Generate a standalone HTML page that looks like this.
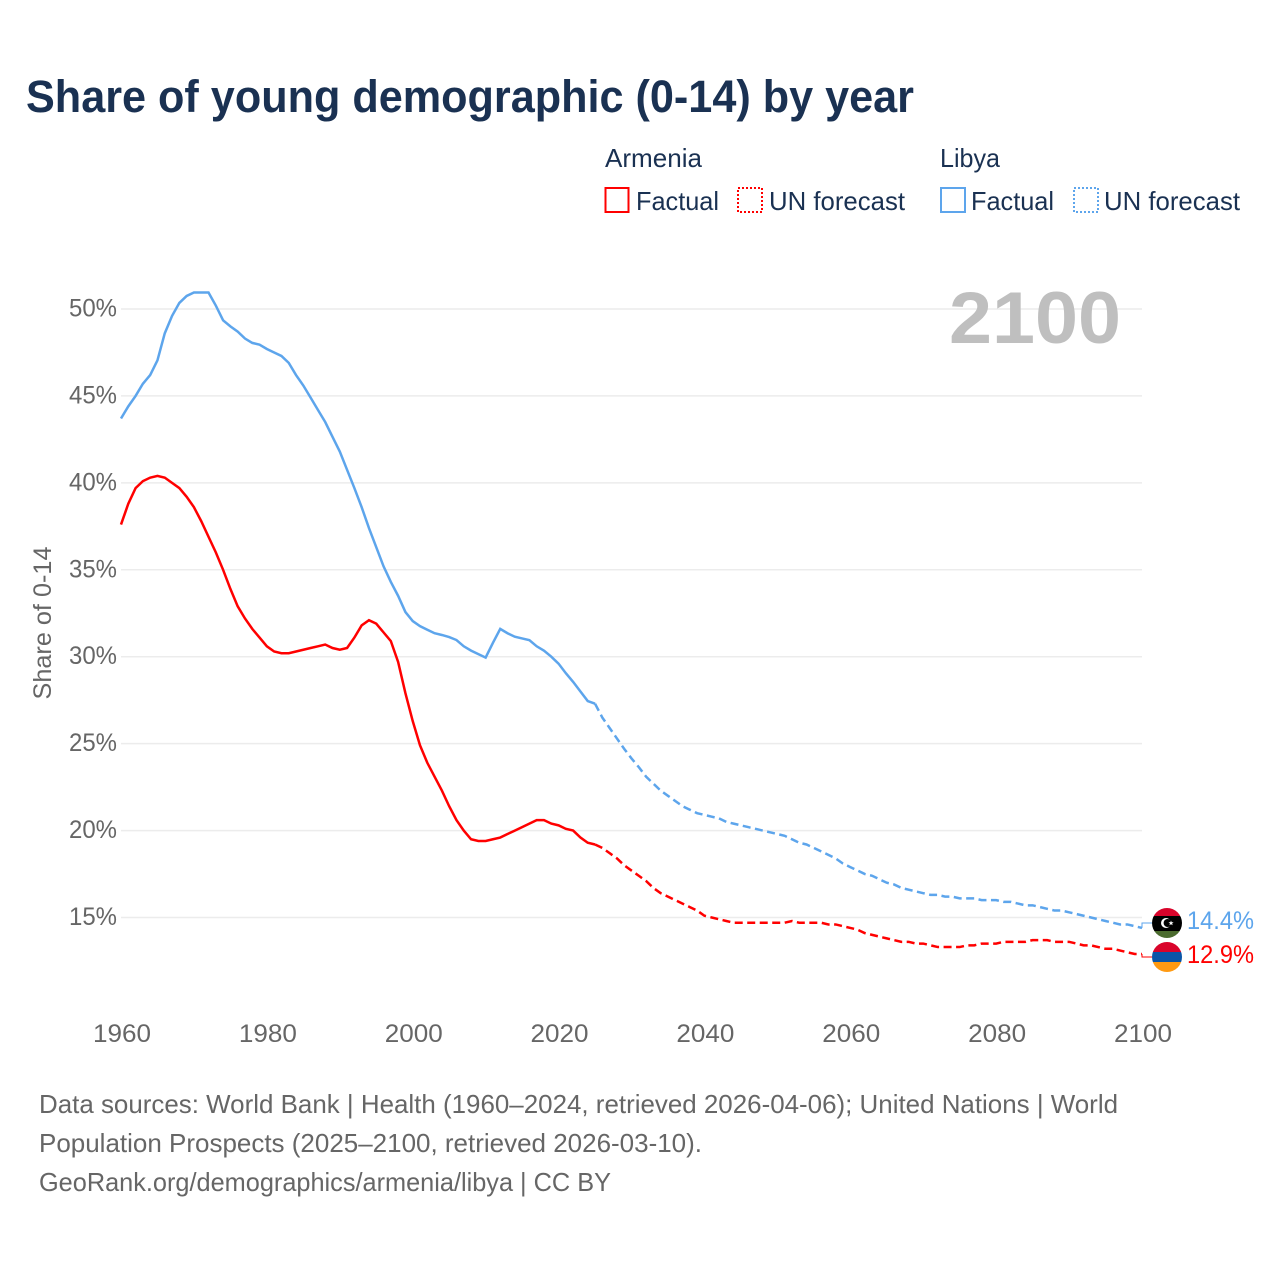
<!DOCTYPE html>
<html lang="en">
<head>
<meta charset="utf-8">
<title>Share of young demographic (0-14) by year</title>
<style>
html,body{margin:0;padding:0;background:#fff;width:1280px;height:1280px;overflow:hidden}
svg{display:block;font-family:"Liberation Sans",sans-serif}
</style>
</head>
<body>
<svg id="chart" xmlns="http://www.w3.org/2000/svg" width="1280" height="1280" viewBox="0 0 1280 1280">
  <rect width="1280" height="1280" fill="#fff"/>
  <text x="26" y="112" font-size="45" font-weight="700" fill="#1a3152" textLength="888" lengthAdjust="spacingAndGlyphs">Share of young demographic (0-14) by year</text>

  <g font-size="26" fill="#1a3152">
    <text x="605" y="167" textLength="97" lengthAdjust="spacingAndGlyphs">Armenia</text>
    <rect x="605.5" y="188" width="23" height="24" fill="none" stroke="#ff0000" stroke-width="2"/>
    <text x="636" y="210" textLength="83" lengthAdjust="spacingAndGlyphs">Factual</text>
    <rect x="738" y="188" width="24" height="24" fill="none" stroke="#ff0000" stroke-width="2" stroke-dasharray="2 2"/>
    <text x="769" y="210" textLength="136" lengthAdjust="spacingAndGlyphs">UN forecast</text>
    <text x="940" y="167" textLength="60" lengthAdjust="spacingAndGlyphs">Libya</text>
    <rect x="941" y="188" width="24" height="24" fill="none" stroke="#5da5ec" stroke-width="2"/>
    <text x="971" y="210" textLength="83" lengthAdjust="spacingAndGlyphs">Factual</text>
    <rect x="1074" y="188" width="24" height="24" fill="none" stroke="#5da5ec" stroke-width="2" stroke-dasharray="2 2"/>
    <text x="1104" y="210" textLength="136" lengthAdjust="spacingAndGlyphs">UN forecast</text>
  </g>

  <g id="grid"></g>
  <g id="yLabels"></g>
  <g id="xLabels"></g>
  <text transform="translate(51,623) rotate(-90)" text-anchor="middle" font-size="25" fill="#666" textLength="153" lengthAdjust="spacingAndGlyphs">Share of 0-14</text>
  <text x="949" y="343" font-size="73" font-weight="700" fill="#bfbfbf" textLength="172" lengthAdjust="spacingAndGlyphs">2100</text>
  <g id="series"></g>

  <defs>
    <clipPath id="clipLibya"><circle cx="1167" cy="923" r="15"/></clipPath>
    <clipPath id="clipArmenia"><circle cx="1167" cy="957" r="15"/></clipPath>
  </defs>
  <g clip-path="url(#clipLibya)">
    <rect x="1152" y="908" width="30" height="8" fill="#d9042b"/>
    <rect x="1152" y="916" width="30" height="15" fill="#000"/>
    <rect x="1152" y="931" width="30" height="7" fill="#4b6b2f"/>
    <circle cx="1166" cy="923" r="5" fill="#fff"/>
    <circle cx="1167.6" cy="923" r="4" fill="#000"/>
    <polygon points="1171,920.5 1171.7,922.3 1173.6,922.3 1172.1,923.5 1172.7,925.3 1171,924.2 1169.4,925.3 1170,923.5 1168.5,922.3 1170.4,922.3" fill="#fff"/>
  </g>
  <g clip-path="url(#clipArmenia)">
    <rect x="1152" y="942" width="30" height="10" fill="#d9042b"/>
    <rect x="1152" y="952" width="30" height="10" fill="#0a55a8"/>
    <rect x="1152" y="962" width="30" height="10" fill="#ff9a12"/>
  </g>
  <text id="labelLibya" x="1187" y="929" font-size="25" fill="#5da5ec" textLength="67" lengthAdjust="spacingAndGlyphs"></text>
  <text id="labelArmenia" x="1187" y="963" font-size="25" fill="#ff0000" textLength="67" lengthAdjust="spacingAndGlyphs"></text>

  <g font-size="26" fill="#666">
    <text x="39" y="1113" textLength="1079" lengthAdjust="spacingAndGlyphs">Data sources: World Bank | Health (1960–2024, retrieved 2026-04-06); United Nations | World</text>
    <text x="39" y="1152" textLength="663" lengthAdjust="spacingAndGlyphs">Population Prospects (2025–2100, retrieved 2026-03-10).</text>
    <text x="39" y="1191" textLength="572" lengthAdjust="spacingAndGlyphs">GeoRank.org/demographics/armenia/libya | CC BY</text>
  </g>
</svg>
<script>
const startYear = 1960;
const xTicks = [1960, 1980, 2000, 2020, 2040, 2060, 2080, 2100];
const yTicks = [15, 20, 25, 30, 35, 40, 45, 50];
const armeniaFactual = [37.6,38.8,39.7,40.1,40.3,40.4,40.3,40.0,39.7,39.2,38.6,37.8,36.9,36.0,35.0,33.9,32.9,32.2,31.6,31.1,30.6,30.3,30.2,30.2,30.3,30.4,30.5,30.6,30.7,30.5,30.4,30.5,31.1,31.8,32.1,31.9,31.4,30.9,29.7,27.9,26.3,24.9,23.9,23.1,22.3,21.4,20.6,20.0,19.5,19.4,19.4,19.5,19.6,19.8,20.0,20.2,20.4,20.6,20.6,20.4,20.3,20.1,20.0,19.6,19.3,19.2];
const armeniaForecast = [19.2,19.0,18.7,18.4,18.0,17.7,17.4,17.1,16.7,16.4,16.2,16.0,15.8,15.6,15.4,15.1,15.0,14.9,14.8,14.7,14.7,14.7,14.7,14.7,14.7,14.7,14.7,14.8,14.7,14.7,14.7,14.7,14.6,14.6,14.5,14.4,14.3,14.1,14.0,13.9,13.8,13.7,13.6,13.6,13.5,13.5,13.4,13.3,13.3,13.3,13.3,13.4,13.4,13.5,13.5,13.5,13.6,13.6,13.6,13.6,13.7,13.7,13.7,13.6,13.6,13.6,13.5,13.4,13.4,13.3,13.2,13.2,13.1,13.0,12.9,12.9];
const libyaFactual = [43.7,44.4,45.0,45.7,46.2,47.05,48.6,49.6,50.35,50.75,50.95,50.95,50.95,50.2,49.35,49.0,48.7,48.3,48.05,47.95,47.7,47.5,47.3,46.9,46.2,45.6,44.9,44.2,43.5,42.65,41.8,40.75,39.7,38.6,37.4,36.3,35.2,34.3,33.5,32.57,32.05,31.76,31.55,31.35,31.25,31.13,30.96,30.6,30.35,30.15,29.95,30.8,31.6,31.35,31.15,31.05,30.95,30.6,30.35,30.0,29.6,29.05,28.55,28.0,27.45,27.3];
const libyaForecast = [27.3,26.5,25.9,25.3,24.7,24.15,23.65,23.1,22.7,22.3,22.0,21.7,21.4,21.2,21.0,20.9,20.8,20.7,20.5,20.4,20.3,20.2,20.1,20.0,19.9,19.8,19.7,19.5,19.3,19.2,19.0,18.8,18.6,18.4,18.1,17.9,17.7,17.5,17.4,17.2,17.0,16.9,16.7,16.6,16.5,16.4,16.3,16.3,16.2,16.2,16.1,16.1,16.1,16.0,16.0,16.0,15.9,15.9,15.8,15.7,15.7,15.6,15.5,15.4,15.4,15.3,15.2,15.1,15.0,14.9,14.8,14.7,14.6,14.6,14.5,14.4];
const forecastStartYear = 2025;
const endLabels = ["14.4%", "12.9%"];

const SVG_NS = 'http://www.w3.org/2000/svg';
function xScale(year) { return 121 + (year - 1960) * (1142 - 121) / 140; }
function yScale(v) { return 917.5 - (v - 15) * (917.5 - 309) / 35; }
function pathFrom(values, firstYear) {
  return values.map(function (v, i) {
    return (i ? 'L' : 'M') + xScale(firstYear + i).toFixed(2) + ' ' + yScale(v).toFixed(2);
  }).join(' ');
}

const grid = document.getElementById('grid');
const yLabels = document.getElementById('yLabels');
const xLabels = document.getElementById('xLabels');
const seriesGroup = document.getElementById('series');

yTicks.forEach(function (t) {
  const line = document.createElementNS(SVG_NS, 'line');
  
  
  line.setAttribute('x1', 121);
  line.setAttribute('x2', 1142);
  line.setAttribute('y1', yScale(t));
  line.setAttribute('y2', yScale(t));
  line.setAttribute('stroke', '#ececec');
  line.setAttribute('stroke-width', 1.5);
  grid.appendChild(line);

  const label = document.createElementNS(SVG_NS, 'text');
  
  
  label.setAttribute('x', 117);
  label.setAttribute('y', yScale(t) + 7.5);
  label.setAttribute('text-anchor', 'end');
  label.setAttribute('font-size', 25);
  label.setAttribute('fill', '#666');
  label.setAttribute('textLength', 48);
  label.setAttribute('lengthAdjust', 'spacingAndGlyphs');
  label.textContent = t + '%';
  yLabels.appendChild(label);
});

xTicks.forEach(function (t) {
  const label = document.createElementNS(SVG_NS, 'text');
  
  
  label.setAttribute('x', xScale(t) + 1);
  label.setAttribute('y', 1042);
  label.setAttribute('text-anchor', 'middle');
  label.setAttribute('font-size', 25);
  label.setAttribute('fill', '#666');
  label.setAttribute('textLength', 58);
  label.setAttribute('lengthAdjust', 'spacingAndGlyphs');
  label.textContent = t;
  xLabels.appendChild(label);
});

const libyaLine = document.createElementNS(SVG_NS, 'path');


libyaLine.setAttribute('d', pathFrom(libyaFactual, startYear));
libyaLine.setAttribute('fill', 'none');
libyaLine.setAttribute('stroke', '#5da5ec');
libyaLine.setAttribute('stroke-width', 2.5);
seriesGroup.appendChild(libyaLine);

const libyaDash = document.createElementNS(SVG_NS, 'path');


libyaDash.setAttribute('d', pathFrom(libyaForecast, forecastStartYear));
libyaDash.setAttribute('fill', 'none');
libyaDash.setAttribute('stroke', '#5da5ec');
libyaDash.setAttribute('stroke-width', 2.5);
libyaDash.setAttribute('stroke-dasharray', '8 4.5');
seriesGroup.appendChild(libyaDash);

const armeniaLine = document.createElementNS(SVG_NS, 'path');


armeniaLine.setAttribute('d', pathFrom(armeniaFactual, startYear));
armeniaLine.setAttribute('fill', 'none');
armeniaLine.setAttribute('stroke', '#ff0000');
armeniaLine.setAttribute('stroke-width', 2.5);
seriesGroup.appendChild(armeniaLine);

const armeniaDash = document.createElementNS(SVG_NS, 'path');


armeniaDash.setAttribute('d', pathFrom(armeniaForecast, forecastStartYear));
armeniaDash.setAttribute('fill', 'none');
armeniaDash.setAttribute('stroke', '#ff0000');
armeniaDash.setAttribute('stroke-width', 2.5);
armeniaDash.setAttribute('stroke-dasharray', '8 4.5');
seriesGroup.appendChild(armeniaDash);

const libyaLeader = document.createElementNS(SVG_NS, 'path');


libyaLeader.setAttribute('d', 'M' + xScale(2100) + ' ' + yScale(libyaForecast[libyaForecast.length - 1]) + ' V923 H1152');
libyaLeader.setAttribute('fill', 'none');
libyaLeader.setAttribute('stroke', '#5da5ec');
libyaLeader.setAttribute('stroke-width', 1);
seriesGroup.appendChild(libyaLeader);

const armeniaLeader = document.createElementNS(SVG_NS, 'path');


armeniaLeader.setAttribute('d', 'M' + xScale(2100) + ' ' + yScale(armeniaForecast[armeniaForecast.length - 1]) + ' V957 H1152');
armeniaLeader.setAttribute('fill', 'none');
armeniaLeader.setAttribute('stroke', '#ff0000');
armeniaLeader.setAttribute('stroke-width', 1);
seriesGroup.appendChild(armeniaLeader);

document.getElementById('labelLibya').textContent = endLabels[0];
document.getElementById('labelArmenia').textContent = endLabels[1];
</script>
</body>
</html>
